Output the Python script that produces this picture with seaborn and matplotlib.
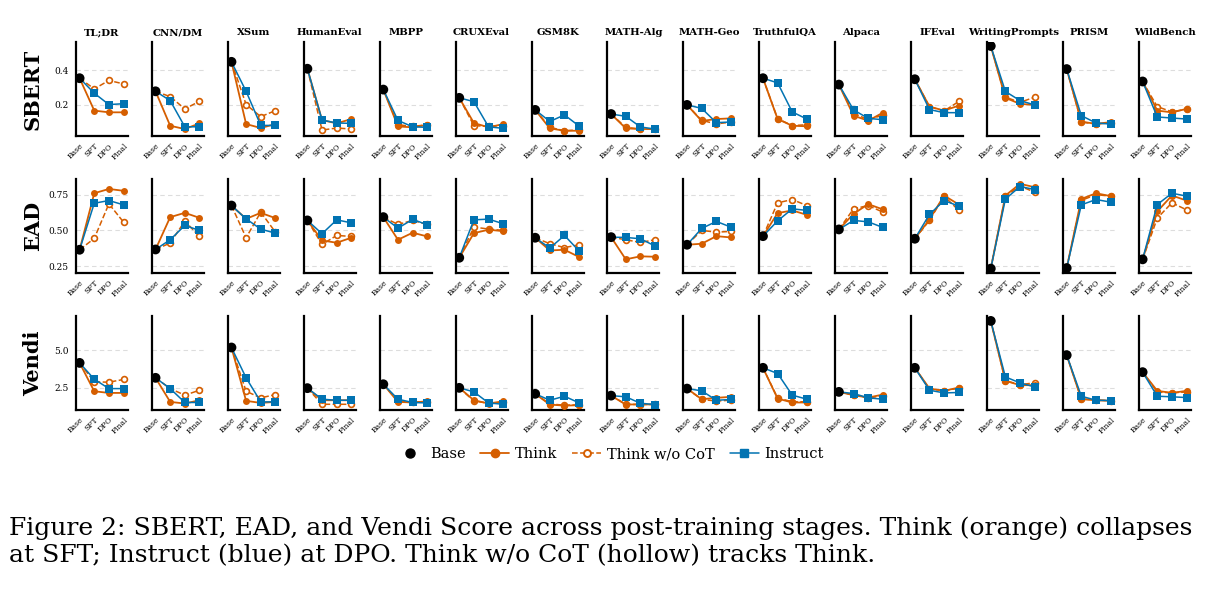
import matplotlib
matplotlib.use("Agg")
import matplotlib.pyplot as plt
from matplotlib.lines import Line2D
import seaborn as sns

# datasets and stages
datasets = ["TL;DR", "CNN/DM", "XSum", "HumanEval", "MBPP", "CRUXEval", "GSM8K",
            "MATH-Alg", "MATH-Geo", "TruthfulQA", "Alpaca", "IFEval",
            "WritingPrompts", "PRISM", "WildBench"]
stages = ["Base", "SFT", "DPO", "Final"]

# SBERT  (base value, then SFT / DPO / Final per dataset)
sbert_base = [0.355, 0.279, 0.45, 0.41, 0.289, 0.241, 0.171, 0.147, 0.20, 0.355,
              0.318, 0.349, 0.542, 0.408, 0.336]
sbert_think = [(0.167, 0.157, 0.157), (0.079, 0.06, 0.093), (0.089, 0.066, 0.089),
               (0.112, 0.093, 0.118), (0.075, 0.07, 0.085), (0.095, 0.07, 0.089),
               (0.064, 0.05, 0.05), (0.064, 0.06, 0.06), (0.107, 0.118, 0.122),
               (0.118, 0.079, 0.076), (0.138, 0.108, 0.155), (0.19, 0.167, 0.196),
               (0.241, 0.206, 0.20), (0.103, 0.09, 0.10), (0.167, 0.157, 0.177)]
sbert_nocot = [(0.293, 0.342, 0.322), (0.248, 0.177, 0.221), (0.202, 0.132, 0.167),
               (0.054, 0.066, 0.06), (0.085, 0.075, 0.085), (0.08, 0.075, 0.08),
               (0.07, 0.05, 0.055), (0.07, 0.06, 0.06), (0.11, 0.09, 0.10),
               (0.12, 0.08, 0.085), (0.15, 0.115, 0.14), (0.19, 0.165, 0.22),
               (0.245, 0.215, 0.245), (0.10, 0.09, 0.095), (0.19, 0.16, 0.175)]
sbert_instruct = [(0.268, 0.202, 0.207), (0.225, 0.073, 0.073), (0.279, 0.081, 0.081),
                  (0.112, 0.095, 0.093), (0.11, 0.073, 0.07), (0.219, 0.073, 0.064),
                  (0.104, 0.142, 0.077), (0.134, 0.072, 0.06), (0.18, 0.097, 0.101),
                  (0.328, 0.159, 0.118), (0.171, 0.122, 0.114), (0.173, 0.155, 0.155),
                  (0.278, 0.225, 0.20), (0.138, 0.095, 0.089), (0.13, 0.124, 0.118)]

# EAD
ead_base = [0.365, 0.367, 0.674, 0.57, 0.593, 0.309, 0.449, 0.453, 0.40, 0.46,
            0.507, 0.442, 0.233, 0.237, 0.298]
ead_think = [(0.76, 0.79, 0.777), (0.593, 0.623, 0.588), (0.581, 0.623, 0.586),
             (0.43, 0.414, 0.449), (0.435, 0.484, 0.458), (0.481, 0.505, 0.495),
             (0.36, 0.365, 0.314), (0.298, 0.319, 0.316), (0.407, 0.46, 0.451),
             (0.621, 0.64, 0.609), (0.616, 0.684, 0.647), (0.577, 0.744, 0.681),
             (0.744, 0.826, 0.802), (0.72, 0.76, 0.74), (0.633, 0.744, 0.709)]
ead_nocot = [(0.444, 0.686, 0.558), (0.412, 0.565, 0.458), (0.449, 0.628, 0.488),
             (0.402, 0.465, 0.458), (0.542, 0.57, 0.542), (0.523, 0.51, 0.50),
             (0.407, 0.38, 0.40), (0.435, 0.416, 0.435), (0.50, 0.488, 0.493),
             (0.693, 0.716, 0.674), (0.651, 0.674, 0.628), (0.57, 0.74, 0.64),
             (0.74, 0.81, 0.767), (0.71, 0.75, 0.74), (0.586, 0.693, 0.644)]
ead_instruct = [(0.69, 0.709, 0.679), (0.435, 0.535, 0.50), (0.581, 0.509, 0.481),
                (0.477, 0.574, 0.553), (0.516, 0.577, 0.54), (0.574, 0.579, 0.547),
                (0.377, 0.465, 0.356), (0.451, 0.442, 0.391), (0.514, 0.563, 0.523),
                (0.567, 0.651, 0.64), (0.57, 0.56, 0.521), (0.612, 0.709, 0.67),
                (0.72, 0.807, 0.786), (0.679, 0.716, 0.698), (0.681, 0.76, 0.74)]

# Vendi
vendi_base = [4.15, 3.15, 5.18, 2.46, 2.72, 2.48, 2.08, 1.96, 2.43, 3.82,
              2.21, 3.82, 6.96, 4.67, 3.53]
vendi_think = [(2.25, 2.14, 2.14), (1.54, 1.43, 1.65), (1.61, 1.47, 1.54),
               (1.65, 1.65, 1.65), (1.54, 1.50, 1.58), (1.65, 1.43, 1.58),
               (1.36, 1.29, 1.32), (1.36, 1.38, 1.36), (1.72, 1.81, 1.88),
               (1.76, 1.50, 1.50), (1.99, 1.83, 2.03), (2.43, 2.28, 2.50),
               (2.95, 2.66, 2.66), (1.72, 1.65, 1.61), (2.28, 2.14, 2.28)]
vendi_nocot = [(2.88, 2.86, 3.04), (2.43, 1.99, 2.32), (2.25, 1.81, 2.03),
               (1.38, 1.38, 1.38), (1.58, 1.52, 1.55), (1.60, 1.45, 1.50),
               (1.40, 1.32, 1.34), (1.38, 1.36, 1.38), (1.70, 1.60, 1.65),
               (1.80, 1.55, 1.55), (2.00, 1.80, 1.95), (2.40, 2.30, 2.45),
               (2.95, 2.70, 2.81), (1.75, 1.66, 1.63), (2.20, 2.15, 2.20)]
vendi_instruct = [(3.06, 2.43, 2.43), (2.43, 1.50, 1.50), (3.15, 1.54, 1.54),
                  (1.72, 1.65, 1.65), (1.72, 1.50, 1.47), (2.21, 1.47, 1.38),
                  (1.65, 1.92, 1.47), (1.88, 1.45, 1.36), (2.28, 1.65, 1.70),
                  (3.44, 1.99, 1.72), (2.10, 1.81, 1.72), (2.32, 2.14, 2.17),
                  (3.21, 2.81, 2.54), (1.92, 1.65, 1.63), (1.92, 1.88, 1.83)]

row_names = ["SBERT", "EAD", "Vendi"]
row_ticks = [[0.2, 0.4], [0.25, 0.50, 0.75], [2.5, 5.0]]
row_ticklabels = [["0.2", "0.4"], ["0.25", "0.50", "0.75"], ["2.5", "5.0"]]
row_ylims = [(0.017, 0.565), (0.20, 0.86), (0.98, 7.3)]

rows = [
    (sbert_base, sbert_think, sbert_nocot, sbert_instruct),
    (ead_base, ead_think, ead_nocot, ead_instruct),
    (vendi_base, vendi_think, vendi_nocot, vendi_instruct),
]

sns.set_theme(style="white")
plt.rcParams["font.family"] = ["DejaVu Serif"]
plt.rcParams["text.color"] = "black"
plt.rcParams["xtick.color"] = "black"
plt.rcParams["ytick.color"] = "black"
plt.rcParams["axes.labelcolor"] = "black"

orange = "#D55E00"
blue = "#0173B2"

fig, axes = plt.subplots(3, 15, figsize=(12.19, 5.92), dpi=100)
fig.subplots_adjust(left=0.0623, right=0.977, top=0.929, bottom=0.307,
                    wspace=0.46, hspace=0.45)

x = [0, 1, 2, 3]
for r, (base, think, nocot, instruct) in enumerate(rows):
    for c in range(15):
        ax = axes[r, c]
        for ty in row_ticks[r]:
            ax.axhline(ty, color="#dddddd", lw=0.8, ls=(0, (4, 3)), zorder=0)
        sns.lineplot(x=x, y=[base[c]] + list(nocot[c]), ax=ax, color=orange,
                     lw=1.1, linestyle="--", marker="o", markersize=4.2,
                     markerfacecolor="white", markeredgecolor=orange,
                     markeredgewidth=1.2, markevery=[1, 2, 3], zorder=3)
        sns.lineplot(x=x, y=[base[c]] + list(think[c]), ax=ax, color=orange,
                     lw=1.3, marker="o", markersize=5, markeredgewidth=0,
                     markevery=[1, 2, 3], zorder=4)
        sns.lineplot(x=x, y=[base[c]] + list(instruct[c]), ax=ax, color=blue,
                     lw=1.1, marker="s", markersize=5.2, markeredgewidth=0,
                     markevery=[1, 2, 3], zorder=5)
        sns.scatterplot(x=[0], y=[base[c]], ax=ax, color="black", s=50,
                        edgecolor="none", zorder=6)

        ax.set_xlim(-0.25, 3.3)
        ax.set_ylim(*row_ylims[r])
        ax.set_xticks(x)
        ax.set_xticklabels(stages, rotation=45, ha="right",
                           rotation_mode="anchor", fontsize=5.5)
        ax.set_yticks(row_ticks[r])
        if c == 0:
            ax.set_yticklabels(row_ticklabels[r], fontsize=6.5)
        else:
            ax.set_yticklabels([])
        ax.tick_params(axis="both", direction="in", length=6.5, width=1.5,
                       color="black", pad=5)
        ax.tick_params(axis="x", pad=4)
        for side in ["top", "right"]:
            ax.spines[side].set_visible(False)
        for side in ["left", "bottom"]:
            ax.spines[side].set_linewidth(1.6)
            ax.spines[side].set_color("black")
        ax.set_xlabel("")
        ax.set_ylabel("")
        if r == 0:
            ax.set_title(datasets[c], fontsize=7.3, fontweight="bold", pad=5)

    pos = axes[r, 0].get_position()
    fig.text(0.027, (pos.y0 + pos.y1) / 2, row_names[r], rotation=90,
             fontsize=15, fontweight="bold", ha="center", va="center")

handles = [
    Line2D([], [], color="black", marker="o", linestyle="none", markersize=6.5),
    Line2D([], [], color=orange, marker="o", lw=1.3, markersize=6),
    Line2D([], [], color=orange, marker="o", lw=1.1, ls="--", markersize=5,
           markerfacecolor="white", markeredgewidth=1.4),
    Line2D([], [], color=blue, marker="s", lw=1.1, markersize=6),
]
fig.legend(handles, ["Base", "Think", "Think w/o CoT", "Instruct"],
           loc="center", bbox_to_anchor=(0.5, 0.233), ncol=4, frameon=False,
           fontsize=10.5, handlelength=2.0, handletextpad=0.4, columnspacing=1.0)

fig.text(0.007, 1 - 528 / 592,
         "Figure 2: SBERT, EAD, and Vendi Score across post-training stages. "
         "Think (orange) collapses", fontsize=18, va="center", ha="left")
fig.text(0.007, 1 - 556 / 592,
         "at SFT; Instruct (blue) at DPO. Think w/o CoT (hollow) tracks Think.",
         fontsize=18, va="center", ha="left")

fig.savefig("out.png", dpi=100)
